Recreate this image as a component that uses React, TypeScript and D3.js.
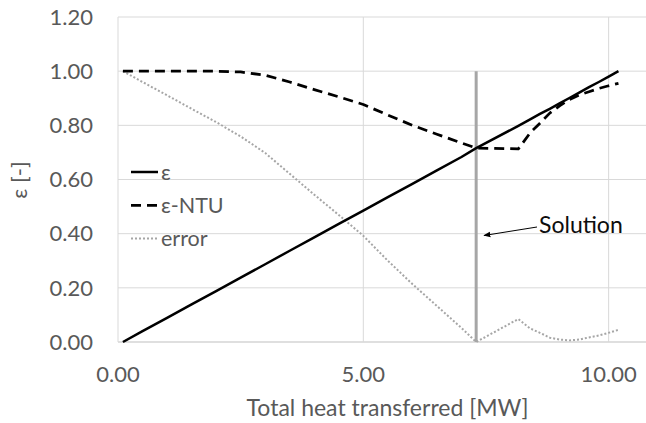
import React from "react";
import * as d3 from "d3";

const Q = [0.1, 0.5, 1.0, 1.5, 2.0, 2.5, 3.0, 3.5, 4.0, 4.5, 5.0, 5.5, 6.0, 6.5, 7.0, 7.3, 8.16, 8.4, 8.6, 8.8, 9.0, 9.2, 9.4, 9.6, 9.8, 10.0, 10.2];
const eps = [0.0, 0.04, 0.089, 0.139, 0.188, 0.238, 0.287, 0.337, 0.386, 0.436, 0.485, 0.535, 0.584, 0.634, 0.683, 0.716, 0.798, 0.822, 0.842, 0.861, 0.881, 0.901, 0.921, 0.941, 0.96, 0.98, 1.0];
const epsNTU = [1.0, 1.0, 1.0, 1.0, 1.0, 0.997, 0.985, 0.96, 0.932, 0.905, 0.877, 0.838, 0.8, 0.767, 0.735, 0.716, 0.713, 0.772, 0.808, 0.845, 0.872, 0.895, 0.912, 0.924, 0.936, 0.946, 0.955];
const errorVals = [1.0, 0.96, 0.911, 0.861, 0.812, 0.759, 0.698, 0.621, 0.544, 0.469, 0.392, 0.3, 0.214, 0.133, 0.052, 0.0, 0.085, 0.05, 0.034, 0.016, 0.009, 0.006, 0.009, 0.017, 0.024, 0.034, 0.045];

const xTicks = [0, 5, 10];
const yTicks = [0, 0.2, 0.4, 0.6, 0.8, 1.0, 1.2];
const solutionQ = 7.3;
const solutionTop = 1.0;

const legendItems = [
  { label: "ε", dash: "none", color: "#000", width: 2.5 },
  { label: "ε-NTU", dash: "10 6", color: "#000", width: 2.75 },
  { label: "error", dash: "2 2", color: "#a6a6a6", width: 2 },
];

const FONT = "Lato, 'Open Sans', sans-serif";

export default function App() {
  const W = 646, H = 423;
  const x = d3.scaleLinear().domain([0, 11]).range([118, 657.7]);
  const y = d3.scaleLinear().domain([0, 1.2]).range([342, 17]);

  const line = (vals: number[]) =>
    d3.line<number>().x((_, i) => x(Q[i])).y((d) => y(d))(vals) || "";

  const series = [
    { vals: errorVals, ...legendItems[2] },
    { vals: epsNTU, ...legendItems[1] },
    { vals: eps, ...legendItems[0] },
  ];

  return (
    <svg width={W} height={H} style={{ position: "absolute", left: 0, top: 0, background: "#fff" }}>
      <defs>
        <marker id="arr" viewBox="0 0 10 10" refX="9" refY="5" markerWidth="7" markerHeight="7" orient="auto">
          <path d="M0,1 L10,5 L0,9 z" fill="#000" />
        </marker>
      </defs>
      <rect width={W} height={H} fill="#fff" />
      {yTicks.map((t) => (
        <line key={"gy" + t} x1={x(0)} x2={x(11)} y1={y(t)} y2={y(t)} stroke={t === 0 ? "#bfbfbf" : "#d9d9d9"} strokeWidth={1} />
      ))}
      {xTicks.map((t) => (
        <line key={"gx" + t} x1={x(t)} x2={x(t)} y1={y(0)} y2={y(1.2)} stroke="#d9d9d9" strokeWidth={1} />
      ))}
      {yTicks.map((t) => (
        <text key={"ty" + t} x={93} y={y(t)} dy="0.35em" textAnchor="end" fontFamily={FONT} fontSize={22} fill="#595959">
          {t.toFixed(2)}
        </text>
      ))}
      {xTicks.map((t) => (
        <text key={"tx" + t} x={x(t)} y={382} textAnchor="middle" fontFamily={FONT} fontSize={22} fill="#595959">
          {t.toFixed(2)}
        </text>
      ))}
      <text x={387.5} y={416} textAnchor="middle" fontFamily={FONT} fontSize={23} fill="#595959">
        Total heat transferred [MW]
      </text>
      <text transform={`translate(27,180) rotate(-90)`} textAnchor="middle" fontFamily={FONT} fontSize={22} fill="#595959">
        ε [-]
      </text>

      <line x1={x(solutionQ)} x2={x(solutionQ)} y1={y(0)} y2={y(solutionTop)} stroke="#a6a6a6" strokeWidth={3} />

      {series.map((s) => (
        <path key={s.label} d={line(s.vals)} fill="none" stroke={s.color} strokeWidth={s.width} strokeDasharray={s.dash} strokeLinejoin="round" />
      ))}

      {legendItems.map((it, i) => {
        const ly = 172 + i * 33.3;
        return (
          <g key={"lg" + it.label}>
            <line x1={131} x2={158} y1={ly} y2={ly} stroke={it.color} strokeWidth={it.width} strokeDasharray={it.dash} />
            <text x={161} y={ly} dy="0.35em" fontFamily={FONT} fontSize={21.5} fill="#595959">
              {it.label}
            </text>
          </g>
        );
      })}

      <line x1={537} y1={227} x2={484} y2={235.5} stroke="#000" strokeWidth={1} markerEnd="url(#arr)" />
      <text x={539} y={233} fontFamily={FONT} fontSize={23} fill="#0d0d0d">
        Solution
      </text>
    </svg>
  );
}
